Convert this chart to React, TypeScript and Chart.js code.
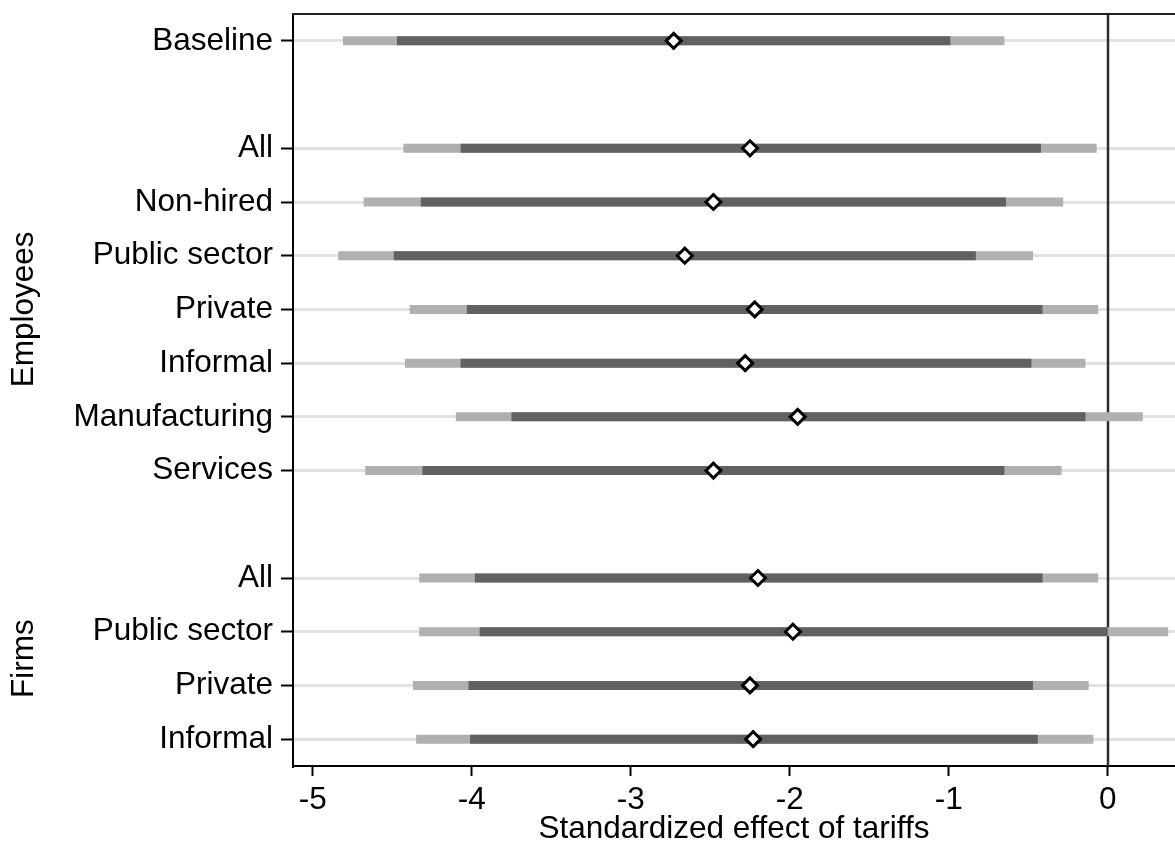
import React, { useEffect, useRef } from 'react';
import { Chart, registerables } from 'chart.js';

Chart.register(...registerables);

// ---- Data ----
const rowLabels = [
  'Baseline',
  'All',
  'Non-hired',
  'Public sector',
  'Private',
  'Informal',
  'Manufacturing',
  'Services',
  'All',
  'Public sector',
  'Private',
  'Informal',
];
const rowPositions = [0, 2, 3, 4, 5, 6, 7, 8, 10, 11, 12, 13];
const coefficients = [-2.73, -2.25, -2.48, -2.66, -2.22, -2.28, -1.95, -2.48, -2.2, -1.98, -2.25, -2.23];
const ci90Low = [-4.47, -4.07, -4.32, -4.49, -4.03, -4.07, -3.75, -4.31, -3.98, -3.95, -4.02, -4.01];
const ci90High = [-0.99, -0.42, -0.64, -0.83, -0.41, -0.48, -0.14, -0.65, -0.41, 0.0, -0.47, -0.44];
const ci95Low = [-4.81, -4.43, -4.68, -4.84, -4.39, -4.42, -4.1, -4.67, -4.33, -4.33, -4.37, -4.35];
const ci95High = [-0.65, -0.07, -0.28, -0.47, -0.06, -0.14, 0.22, -0.29, -0.06, 0.38, -0.12, -0.09];
const xTickValues = [-5, -4, -3, -2, -1, 0];
const groupLabels = ['Employees', 'Firms'];
const groupFirstRow = [2, 10];
const groupLastRow = [8, 13];
const xTitle = 'Standardized effect of tariffs';

const X_MIN = -5.124;
const X_MAX = 0.423;
const Y_MIN = -0.5;
const Y_MAX = 13.5;

const FONT = "'Liberation Sans', Arial, Helvetica, sans-serif";
const FONT_SIZE = 31.5;

function buildSegments(lo: number[], hi: number[]) {
  const out: any[] = [];
  lo.forEach((l, i) => {
    out.push({ x: l, y: rowPositions[i] });
    out.push({ x: hi[i], y: rowPositions[i] });
    out.push({ x: null, y: null });
  });
  return out;
}

const frameAndGroupPlugin = {
  id: 'frameAndGroup',
  beforeDatasetsDraw(chart: any) {
    const { ctx, chartArea, scales } = chart;
    const x0 = Math.round(scales.x.getPixelForValue(0));
    ctx.save();
    ctx.strokeStyle = '#2e2e2e';
    ctx.lineWidth = 2.5;
    ctx.beginPath();
    ctx.moveTo(x0, chartArea.top);
    ctx.lineTo(x0, chartArea.bottom);
    ctx.stroke();
    ctx.restore();
  },
  afterDraw(chart: any) {
    const { ctx, chartArea, scales } = chart;
    ctx.save();
    // top frame line
    ctx.strokeStyle = '#222';
    ctx.lineWidth = 2;
    ctx.beginPath();
    ctx.moveTo(chartArea.left - 1, chartArea.top);
    ctx.lineTo(chartArea.right, chartArea.top);
    ctx.stroke();
    // group labels
    ctx.fillStyle = '#000';
    ctx.font = `${FONT_SIZE}px ${FONT}`;
    ctx.textAlign = 'center';
    ctx.textBaseline = 'alphabetic';
    groupLabels.forEach((g, i) => {
      const mid = (groupFirstRow[i] + groupLastRow[i]) / 2;
      const y = scales.y.getPixelForValue(mid);
      ctx.save();
      ctx.translate(33, y);
      ctx.rotate(-Math.PI / 2);
      ctx.fillText(g, 0, 0);
      ctx.restore();
    });
    ctx.restore();
  },
};

export default function App() {
  const canvasRef = useRef<HTMLCanvasElement | null>(null);

  useEffect(() => {
    const canvas = canvasRef.current;
    if (!canvas) return;
    const chart = new Chart(canvas, {
      type: 'scatter',
      data: {
        datasets: [
          {
            label: 'Estimate',
            data: coefficients.map((c, i) => ({ x: c, y: rowPositions[i] })),
            pointStyle: 'rectRot',
            pointRadius: 7.5,
            pointBackgroundColor: '#ffffff',
            pointBorderColor: '#000000',
            pointBorderWidth: 3,
            showLine: false,
            order: 1,
          },
          {
            label: '90% CI',
            data: buildSegments(ci90Low, ci90High),
            showLine: true,
            spanGaps: false,
            borderColor: '#616161',
            borderWidth: 9,
            borderCapStyle: 'butt',
            pointRadius: 0,
            pointHoverRadius: 0,
            order: 2,
          },
          {
            label: '95% CI',
            data: buildSegments(ci95Low, ci95High),
            showLine: true,
            spanGaps: false,
            borderColor: '#b0b0b0',
            borderWidth: 9,
            borderCapStyle: 'butt',
            pointRadius: 0,
            pointHoverRadius: 0,
            order: 3,
          },
        ],
      } as any,
      options: {
        responsive: false,
        animation: false,
        layout: { autoPadding: false, padding: { top: 14, right: 0, bottom: 0, left: 0 } },
        plugins: {
          legend: { display: false },
          tooltip: { enabled: false },
          title: { display: false },
        },
        scales: {
          x: {
            type: 'linear',
            position: 'bottom',
            min: X_MIN,
            max: X_MAX,
            afterBuildTicks: (scale: any) => {
              scale.ticks = xTickValues.map((v) => ({ value: v }));
            },
            afterFit: (scale: any) => {
              scale.height = 82;
              scale.paddingLeft = 0;
              scale.paddingRight = 0;
            },
            border: { display: true, color: '#000', width: 2 },
            grid: {
              drawOnChartArea: false,
              drawTicks: true,
              tickLength: 10,
              tickColor: '#000',
              tickWidth: 2,
            },
            ticks: {
              color: '#000',
              font: { family: FONT, size: FONT_SIZE },
              padding: 5,
              maxRotation: 0,
              callback: (v: any) => String(v),
            },
            title: {
              display: true,
              text: xTitle,
              color: '#000',
              font: { family: FONT, size: FONT_SIZE },
              padding: { top: 0, bottom: 0 },
            },
          },
          y: {
            type: 'linear',
            position: 'left',
            min: Y_MIN,
            max: Y_MAX,
            reverse: true,
            afterBuildTicks: (scale: any) => {
              scale.ticks = rowPositions.map((v) => ({ value: v }));
            },
            afterFit: (scale: any) => {
              scale.width = 293;
              scale.paddingTop = 0;
              scale.paddingBottom = 0;
            },
            border: { display: true, color: '#000', width: 2 },
            grid: {
              drawOnChartArea: true,
              color: '#e2e2e2',
              lineWidth: 3,
              drawTicks: true,
              tickLength: 12,
              tickColor: '#000',
              tickWidth: 2,
            },
            ticks: {
              color: '#000',
              font: { family: FONT, size: FONT_SIZE },
              padding: 8,
              callback: (v: any) => {
                const idx = rowPositions.indexOf(Number(v));
                return idx >= 0 ? rowLabels[idx] : '';
              },
            },
          },
        },
      } as any,
      plugins: [frameAndGroupPlugin],
    });
    return () => chart.destroy();
  }, []);

  return (
    <div style={{ position: 'absolute', left: 0, top: 0, width: 1175, height: 848, background: '#fff' }}>
      <canvas ref={canvasRef} width={1175} height={848} style={{ display: 'block' }} />
    </div>
  );
}
